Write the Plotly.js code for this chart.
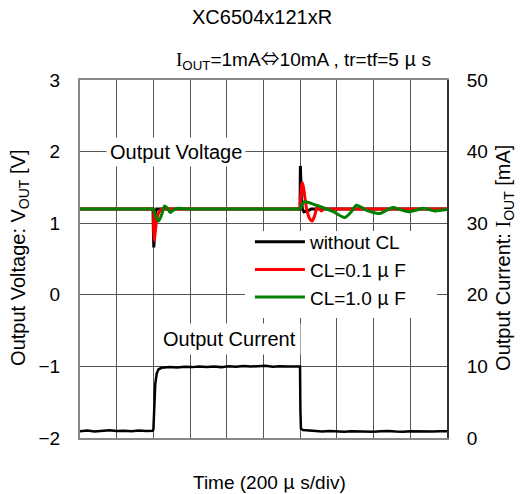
<!DOCTYPE html>
<html>
<head>
<meta charset="utf-8">
<script src="https://cdn.plot.ly/plotly-3.0.1.min.js"></script>
<style>html,body{margin:0;padding:0;background:#fff;}#chart{width:520px;height:494px;}</style>
</head>
<body>
<div id="chart"></div>
<script>
// ---- data (time in microseconds) ----
const tBlack = [0, 398, 400, 402, 404, 407, 411, 418, 430, 1199, 1200, 1201, 1203, 1206, 1212, 1220, 1240, 1260, 2000];
const vBlack = [1.2, 1.2, 0.9, 0.66, 0.75, 1.0, 1.15, 1.2, 1.2, 1.2, 1.5, 1.8, 1.65, 1.35, 1.2, 1.16, 1.17, 1.2, 1.2];

const tRed = [0, 200, 390, 399, 401, 404, 407, 413, 420, 430, 445, 470, 700, 1000, 1190, 1199, 1202, 1206, 1211, 1218, 1226, 1235, 1250, 1265, 1278, 1292, 1305, 1315, 1330, 1360, 1600, 2000];
const vRed = [1.2, 1.2, 1.2, 1.2, 0.95, 0.76, 0.8, 0.95, 1.08, 1.15, 1.2, 1.2, 1.2, 1.2, 1.2, 1.2, 1.35, 1.5, 1.57, 1.5, 1.35, 1.2, 1.07, 1.03, 1.1, 1.22, 1.2, 1.17, 1.2, 1.2, 1.2, 1.2];

const tGreen = [0, 200, 380, 400, 414, 428, 445, 461, 476, 492, 512, 535, 570, 600, 800, 1000, 1180, 1200, 1212, 1225, 1300, 1380, 1442, 1475, 1506, 1535, 1561, 1600, 1634, 1670, 1706, 1745, 1790, 1830, 1870, 1933, 2000];
const vGreen = [1.2, 1.2, 1.2, 1.2, 1.09, 1.03, 1.12, 1.24, 1.21, 1.15, 1.19, 1.21, 1.2, 1.2, 1.2, 1.2, 1.2, 1.2, 1.27, 1.3, 1.24, 1.16, 1.08, 1.15, 1.25, 1.22, 1.18, 1.15, 1.135, 1.18, 1.22, 1.19, 1.16, 1.18, 1.21, 1.17, 1.19];

const tCur = [0, 40, 80, 120, 160, 200, 240, 280, 320, 360,
  396, 400, 404, 410, 418, 428, 445,
  490, 530, 570, 610, 650, 690, 730, 770, 810, 850, 890, 930, 970, 1010, 1050, 1090, 1130, 1170,
  1199, 1201, 1204, 1215,
  1240, 1280, 1320, 1360, 1400, 1440, 1480, 1520, 1560, 1600, 1640, 1680, 1720, 1760, 1800, 1840, 1880, 1920, 1960, 2000];
const iCur = [0.95, 1.05, 0.92, 1.0, 1.08, 0.97, 1.02, 0.94, 1.06, 0.99,
  1.0, 1.2, 4.0, 7.5, 9.0, 9.6, 9.8,
  9.9, 9.85, 9.95, 9.9, 10.0, 9.92, 9.98, 9.9, 10.02, 9.95, 10.05, 9.97, 10.0, 10.08, 9.96, 10.03, 9.98, 10.05,
  10.0, 4.0, 1.3, 1.1,
  1.05, 0.95, 0.9, 0.98, 0.92, 0.88, 0.96, 0.9, 0.94, 0.87, 0.93, 0.97, 0.9, 0.86, 0.95, 0.92, 0.97, 0.9, 0.95, 0.93];

const vTicks = [-2, -1, 0, 1, 2, 3];
const iTicks = [0, 10, 20, 30, 40, 50];

const F = 'Liberation Sans, Arial, Noto Sans CJK JP, sans-serif';
const CJK = function (s) { return '<span style="font-family:\'Noto Sans CJK JP\'">' + s + '</span>'; };
const MU = CJK('μ');
const seriesNames = ['without CL', 'CL=0.1 ' + MU + ' F', 'CL=1.0 ' + MU + ' F'];

const traces = [
  {x: tBlack, y: vBlack, mode: 'lines', name: seriesNames[0], line: {color: '#000000', width: 3}},
  {x: tRed, y: vRed, mode: 'lines', name: seriesNames[1], line: {color: '#ff0000', width: 3, shape: 'spline', smoothing: 0.6}},
  {x: tGreen, y: vGreen, mode: 'lines', name: seriesNames[2], line: {color: '#008000', width: 3, shape: 'spline', smoothing: 0.7}},
  {x: tCur, y: iCur, mode: 'lines', yaxis: 'y2', showlegend: false, line: {color: '#000000', width: 2.5}}
];

const layout = {
  width: 520, height: 494,
  margin: {l: 80, r: 73, t: 80, b: 56},
  paper_bgcolor: '#ffffff', plot_bgcolor: '#ffffff',
  font: {family: F, size: 18, color: '#000'},
  showlegend: true,
  legend: {x: 0.463, y: 0.601, xanchor: 'left', yanchor: 'top', bgcolor: 'rgba(255,255,255,0)',
    itemwidth: 50, font: {family: F, size: 19, color: '#000'}, tracegroupgap: 0},
  xaxis: {range: [0, 2000], dtick: 200, tick0: 0, showticklabels: false, ticks: '',
    showgrid: true, gridcolor: '#555', gridwidth: 1, zeroline: false,
    showline: true, linecolor: '#888', linewidth: 2, mirror: true},
  yaxis: {range: [-2, 3], tickvals: vTicks, ticks: '', ticklabelstandoff: 14,
    showgrid: true, gridcolor: '#555', gridwidth: 1, zeroline: false,
    showline: true, linecolor: '#888', linewidth: 2, mirror: false,
    tickfont: {family: F, size: 19}},
  yaxis2: {range: [0, 50], tickvals: iTicks, overlaying: 'y', side: 'right', ticks: '', ticklabelstandoff: 14,
    showgrid: false, zeroline: false, showline: true, linecolor: '#333', linewidth: 2,
    tickfont: {family: F, size: 19}},
  shapes: [
    {type: 'rect', xref: 'paper', yref: 'paper', x0: 0.4496, x1: 0.9728, y0: 0.335, y1: 0.578,
      fillcolor: '#ffffff', line: {width: 0}, layer: 'above'}
  ],
  annotations: [
    {text: 'XC6504x121xR', xref: 'paper', yref: 'paper', x: 0.496, y: 1.176, showarrow: false,
      xanchor: 'center', yanchor: 'middle', font: {family: F, size: 20}},
    {text: '<span style="font-family:\'Liberation Serif\'">I</span><sub>OUT</sub>=1mA' + CJK('⇔') + '10mA , tr=tf=5 ' + MU + ' s', xref: 'paper', yref: 'paper',
      x: 0.608, y: 1.061, showarrow: false, xanchor: 'center', yanchor: 'middle', font: {family: F, size: 19}},
    {text: 'Output Voltage', xref: 'paper', yref: 'paper', x: 0.2616, y: 0.799, showarrow: false,
      xanchor: 'center', yanchor: 'middle', bgcolor: '#ffffff', borderpad: 3, font: {family: F, size: 20}},
    {text: 'Output Current', xref: 'paper', yref: 'paper', x: 0.4087, y: 0.2765, showarrow: false,
      xanchor: 'center', yanchor: 'middle', bgcolor: '#ffffff', borderpad: 4, font: {family: F, size: 20}},
    {text: 'Time (200 ' + MU + ' s/div)', xref: 'paper', yref: 'paper', x: 0.5177, y: -0.12, showarrow: false,
      xanchor: 'center', yanchor: 'middle', font: {family: F, size: 19}},
    {text: 'Output Voltage: V<sub>OUT</sub> [V]', xref: 'paper', yref: 'paper', x: -0.1635, y: 0.503,
      textangle: -90, showarrow: false, xanchor: 'center', yanchor: 'middle', font: {family: F, size: 20}},
    {text: 'Output Current: <span style="font-family:\'Liberation Serif\'">I</span><sub>OUT</sub> [mA]', xref: 'paper', yref: 'paper', x: 1.158, y: 0.503,
      textangle: -90, showarrow: false, xanchor: 'center', yanchor: 'middle', font: {family: F, size: 20}}
  ]
};

Plotly.newPlot('chart', traces, layout, {staticPlot: true, displayModeBar: false});
</script>
</body>
</html>
